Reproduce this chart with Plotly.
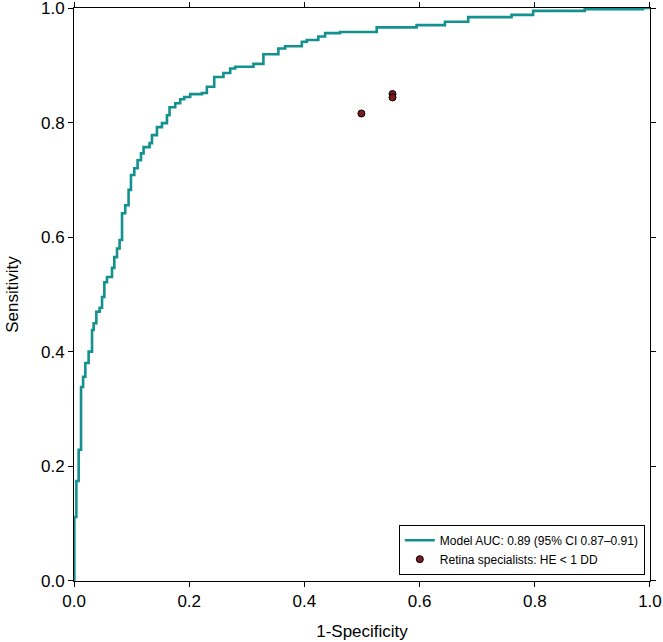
import plotly.graph_objects as go

fpr = [0.0, 0.0005, 0.0040, 0.0080, 0.0121, 0.0157, 0.0196, 0.0253, 0.0312, 0.0340,
       0.0387, 0.0444, 0.0486, 0.0526, 0.0572, 0.0659, 0.0699, 0.0746, 0.0791, 0.0833,
       0.0889, 0.0947, 0.0988, 0.1046, 0.1103, 0.1162, 0.1207, 0.1311, 0.1353, 0.1439,
       0.1526, 0.1613, 0.1658, 0.1757, 0.1843, 0.1913, 0.2017, 0.2220, 0.2306, 0.2434,
       0.2594, 0.2711, 0.2798, 0.3115, 0.3288, 0.3548, 0.3665, 0.3955, 0.4041, 0.4242,
       0.4359, 0.4619, 0.5255, 0.5948, 0.6440, 0.6844, 0.7597, 0.7971, 0.8867, 0.9879, 1.0]
tpr = [0.0, 0.1117, 0.1744, 0.2291, 0.3385, 0.3564, 0.3803, 0.4002, 0.4380, 0.4499,
       0.4698, 0.4768, 0.4957, 0.5215, 0.5305, 0.5464, 0.5653, 0.5802, 0.5951, 0.6419,
       0.6558, 0.6827, 0.7085, 0.7205, 0.7344, 0.7464, 0.7573, 0.7643, 0.7782, 0.7921,
       0.7991, 0.8130, 0.8269, 0.8339, 0.8408, 0.8448, 0.8498, 0.8518, 0.8627, 0.8797,
       0.8866, 0.8946, 0.8976, 0.9025, 0.9194, 0.9294, 0.9334, 0.9413, 0.9443, 0.9503,
       0.9562, 0.9582, 0.9662, 0.9702, 0.9761, 0.9841, 0.9881, 0.9950, 0.9980, 1.0, 1.0]

spec_x = [0.499, 0.553, 0.553]
spec_y = [0.816, 0.850, 0.844]

tick_vals = [0.0, 0.2, 0.4, 0.6, 0.8, 1.0]
tick_text = ["0.0", "0.2", "0.4", "0.6", "0.8", "1.0"]

fig = go.Figure()
fig.add_trace(go.Scatter(x=fpr, y=tpr, mode="lines", line_shape="hv",
                         line=dict(color="#13918e", width=2.6),
                         name="Model AUC: 0.89 (95% CI 0.87\u20130.91)"))
fig.add_trace(go.Scatter(x=spec_x, y=spec_y, mode="markers",
                         marker=dict(color="#7d1c1f", size=7, line=dict(color="black", width=1)),
                         name="Retina specialists: HE < 1 DD"))

axis_common = dict(range=[-0.0001, 1.0001], tickvals=tick_vals, ticktext=tick_text,
                   ticks="outside", ticklen=5, tickcolor="black", tickwidth=1,
                   showline=True, linecolor="black", linewidth=1, mirror="ticks",
                   showgrid=False, zeroline=False, automargin=False,
                   ticklabeloverflow="allow",
                   tickfont=dict(size=17, color="black"))

fig.update_layout(
    width=663, height=642,
    margin=dict(l=74, r=13, t=8, b=61),
    paper_bgcolor="white", plot_bgcolor="white",
    font=dict(family="Liberation Sans, Arial, sans-serif", color="black"),
    xaxis=dict(**axis_common, title=dict(text="1-Specificity", font=dict(size=17), standoff=14)),
    yaxis=dict(**axis_common, title=dict(text="Sensitivity", font=dict(size=17), standoff=18)),
    legend=dict(x=0.991, y=0.011, xanchor="right", yanchor="bottom",
                bgcolor="white", bordercolor="black", borderwidth=1,
                font=dict(size=12), tracegroupgap=0, itemwidth=30),
    showlegend=True,
)

fig.write_html("out.html", config={"displayModeBar": False},
               post_script="document.body.style.margin='0';")
